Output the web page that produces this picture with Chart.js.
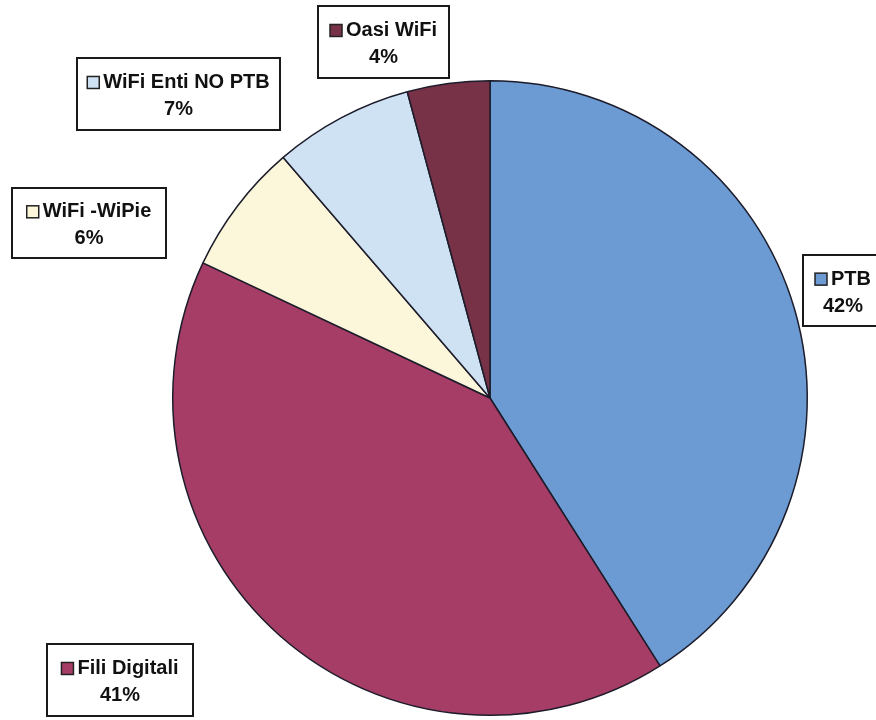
<!DOCTYPE html>
<html>
<head>
<meta charset="utf-8">
<script src="https://cdn.jsdelivr.net/npm/chart.js@4/dist/chart.umd.min.js"></script>
<style>
  html, body { margin: 0; padding: 0; background: #ffffff; }
  #wrap { width: 876px; height: 720px; position: relative; }
</style>
</head>
<body>
<div id="wrap"><canvas id="torta"></canvas></div>
<script>
// dati (in senso orario dalle ore 12)
const categorie = ['PTB', 'Fili Digitali', 'WiFi -WiPie', 'WiFi Enti NO PTB', 'Oasi WiFi'];
const valori = [41, 41, 6.7, 7.1, 4.2];
const etichettePerc = ['42%', '41%', '6%', '7%', '4%'];

const colori = ['#6c9bd3', '#a63d66', '#fcf7da', '#cfe2f4', '#773248'];

// posizione dei riquadri etichetta: [x, y, larghezza, altezza]
const riquadri = [
    [803, 255, 80, 71],
    [47, 644, 146, 72],
    [12, 188, 154, 70],
    [77, 58, 203, 72],
    [318, 6, 131, 72]
];

const pluginEtichette = {
    id: 'etichette',
    afterDraw(chart) {
        const ctx = chart.ctx;
        ctx.save();
        riquadri.forEach((r, i) => {
            const [x, y, w, h] = r;
            ctx.fillStyle = '#ffffff';
            ctx.fillRect(x, y, w, h);
            ctx.lineWidth = 2;
            ctx.strokeStyle = '#1a1a1a';
            ctx.strokeRect(x, y, w, h);

            ctx.font = 'bold 20px "Liberation Sans", Arial, sans-serif';
            ctx.textBaseline = 'middle';
            const testo = categorie[i];
            const tw = ctx.measureText(testo).width;
            const q = 12;
            const tot = q + 4 + tw;
            const sx = x + (w - tot) / 2;
            const cy = y + h * 0.34;
            ctx.fillStyle = colori[i];
            ctx.fillRect(sx, cy - q / 2, q, q);
            ctx.lineWidth = 1.5;
            ctx.strokeStyle = '#222222';
            ctx.strokeRect(sx, cy - q / 2, q, q);
            ctx.fillStyle = '#111111';
            ctx.textAlign = 'left';
            ctx.fillText(testo, sx + q + 4, cy);
            ctx.textAlign = 'center';
            ctx.fillText(etichettePerc[i], x + w / 2, y + h * 0.72);
        });
        ctx.restore();
    }
};

new Chart(document.getElementById('torta'), {
    type: 'pie',
    data: {
        labels: categorie,
        datasets: [{
            data: valori,
            backgroundColor: colori,
            borderColor: '#1c1c2a',
            borderWidth: 1.5
        }]
    },
    options: {
        responsive: true,
        maintainAspectRatio: false,
        animation: false,
        layout: { padding: { left: 172, right: 68, top: 80, bottom: 4 } },
        plugins: {
            legend: { display: false },
            tooltip: { enabled: false }
        }
    },
    plugins: [pluginEtichette]
});
</script>
</body>
</html>
